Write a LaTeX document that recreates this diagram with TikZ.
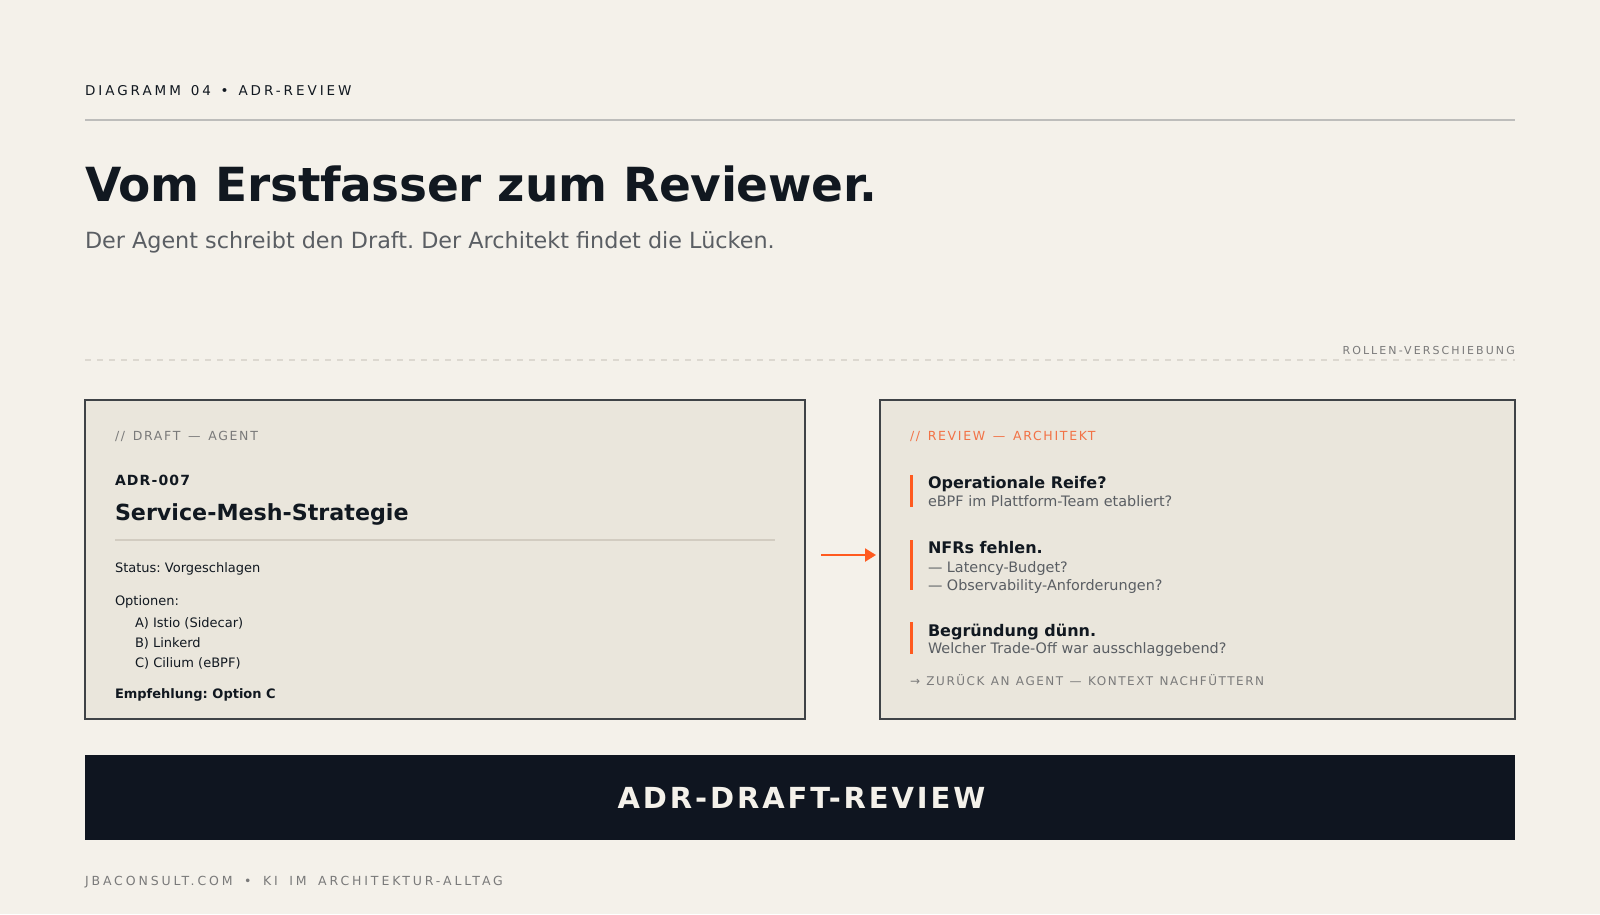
\documentclass[tikz,border=0pt]{standalone}
\usepackage{fontspec}
\setmainfont{DejaVu Sans}
\newfontfamily\fhead[LetterSpace=22,WordSpace=1.35]{DejaVu Sans}
\newfontfamily\frollen[LetterSpace=19]{DejaVu Sans}
\newfontfamily\flabel[LetterSpace=13.5,WordSpace=1.35]{DejaVu Sans}
\newfontfamily\fback[LetterSpace=12.7,WordSpace=1.2]{DejaVu Sans}
\newfontfamily\fadr[LetterSpace=8]{DejaVu Sans}
\newfontfamily\fband[LetterSpace=10]{DejaVu Sans}
\newfontfamily\ffoot[LetterSpace=23,WordSpace=1.68]{DejaVu Sans}
\newfontfamily\ftitle[LetterSpace=-0.6]{DejaVu Sans}
\usetikzlibrary{arrows.meta}
\definecolor{bg}{HTML}{F4F1EA}
\definecolor{boxfill}{HTML}{EAE6DC}
\definecolor{boxline}{HTML}{3F4347}
\definecolor{ink}{HTML}{111820}
\definecolor{band}{HTML}{0F1520}
\definecolor{accent}{HTML}{FF5A1F}
\definecolor{accentlt}{HTML}{F27246}
\definecolor{muted}{HTML}{7A7A7A}
\definecolor{sub}{HTML}{5A5E63}
\definecolor{rulecol}{HTML}{BDBDBB}
\definecolor{dashcol}{HTML}{DCD8D0}
\definecolor{seprule}{HTML}{D2CCC1}
\newcommand\fsz[1]{\fontsize{#1}{#1}\selectfont}
\frenchspacing
\begin{document}
\frenchspacing
\begin{tikzpicture}[x=1pt,y=-1pt,
  txt/.style={inner sep=0pt, outer sep=0pt, anchor=base west},
  panel/.style={draw=boxline, line width=2pt, fill=boxfill, inner sep=0pt, minimum height=319pt},
  item/.style={txt, font=\fsz{16}\bfseries, text=ink},
  itemsub/.style={txt, font=\fsz{14.4}, text=sub},
  bar/.style={fill=accent},
  body/.style={txt, font=\fsz{13}, text=ink},
  flow/.style={draw=accent, line width=2.2pt, -{Triangle[length=11pt,width=13pt]}}
]
\fill[bg] (0,0) rectangle (1600,914);
\useasboundingbox (0,0) rectangle (1600,914);

% header
\node[txt, font=\fhead\fsz{13.5}, text=ink] (hdr) at (85,95) {DIAGRAMM 04 • ADR-REVIEW};
\draw[rulecol, line width=2pt] (85,120) -- (1515,120);
\node[txt, font=\ftitle\fsz{47}\bfseries, text=ink] (title) at (85,201) {Vom Erstfasser zum Reviewer.};
\node[txt, font=\fsz{22.3}, text=sub] (subtitle) at (85,248) {Der Agent schreibt den Draft. Der Architekt findet die Lücken.};

% section label
\node[inner sep=0pt, anchor=base east, font=\frollen\fsz{11}, text=muted] (rollen) at (1515,354) {ROLLEN-VERSCHIEBUNG};
\draw[dashcol, line width=1.5pt, dash pattern=on 6pt off 6pt] (85,360) -- (1515,360);

% panels
\node[panel, minimum width=720pt] (lbox) at (445,559.5) {};
\node[panel, minimum width=635pt] (rbox) at (1197.5,559.5) {};

% left panel content
\node[txt, font=\flabel\fsz{12.5}, text=muted] (llabel) at (115,440) {// DRAFT — AGENT};
\node[txt, font=\fadr\fsz{14}\bfseries, text=ink] (adr) at (115,485) {ADR-007};
\node[txt, font=\fsz{22.2}\bfseries, text=ink] (adrtitle) at (115,520) {Service-Mesh-Strategie};
\draw[seprule, line width=2pt] (115,540) -- (775,540);
\node[body] (status) at (115,572) {Status: Vorgeschlagen};
\node[body] (opts) at (115,605) {Optionen:};
\node[body] (optA) at (135,627) {A) Istio (Sidecar)};
\node[body] (optB) at (135,647) {B) Linkerd};
\node[body] (optC) at (135,667) {C) Cilium (eBPF)};
\node[body, font=\fsz{13}\bfseries] (empf) at (115,698) {Empfehlung: Option C};

% right panel content
\node[txt, font=\flabel\fsz{12.5}, text=accentlt] (rlabel) at (910,440) {// REVIEW — ARCHITEKT};

\fill[bar] (910,475) rectangle (913,507);
\node[item] (q1) at (928,488) {Operationale Reife?};
\node[itemsub] (q1s) at (928,506.5) {eBPF im Plattform-Team etabliert?};

\fill[bar] (910,540) rectangle (913,590);
\node[item] (q2) at (928,553.5) {NFRs fehlen.};
\node[itemsub] (q2a) at (928,572) {— Latency-Budget?};
\node[itemsub] (q2b) at (928,590) {— Observability-Anforderungen?};

\fill[bar] (910,622) rectangle (913,654);
\node[item] (q3) at (928,636) {Begründung dünn.};
\node[itemsub] (q3s) at (928,653.5) {Welcher Trade-Off war ausschlaggebend?};

\node[txt, font=\fback\fsz{12}, text=muted] (back) at (910,685) {→ ZURÜCK AN AGENT — KONTEXT NACHFÜTTERN};

% connector
\draw[flow, shorten <=15pt, shorten >=3pt] ([yshift=4.5pt]lbox.east) -- ([yshift=4.5pt]rbox.west);

% band
\node[fill=band, inner sep=0pt, minimum width=1430pt, minimum height=85pt] (bandbox) at (800,797.5) {};
\node[inner sep=0pt, anchor=base, font=\fband\fsz{29}\bfseries, text=bg] (bandtext) at (801.5,808) {ADR-DRAFT-REVIEW};

% footer
\node[txt, font=\ffoot\fsz{12.5}, text=muted] (footer) at (85,885) {JBACONSULT.COM • KI IM ARCHITEKTUR-ALLTAG};
\end{tikzpicture}
\end{document}
